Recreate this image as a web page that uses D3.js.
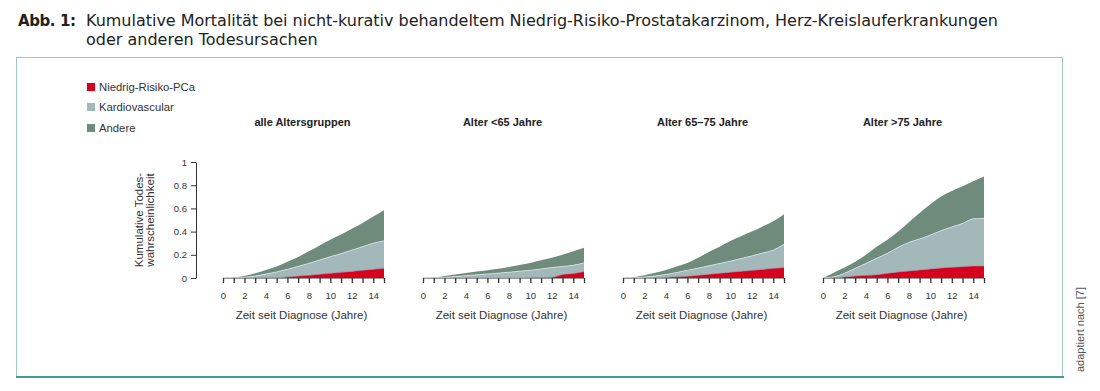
<!DOCTYPE html>
<html>
<head>
<meta charset="utf-8">
<script src="https://cdn.jsdelivr.net/npm/d3@7"></script>
<style>
  body { margin: 0; background: #fff; }
  svg text { font-family: "Liberation Sans", Arial, sans-serif; }
</style>
</head>
<body>
<div id="chart"></div>
<script>
const w = 1100;
const h = 391;

// panels + data (cause-specific cumulative contribution per year, 0..15)
const years = d3.range(0, 16);
const panelTitles = ["alle Altersgruppen", "Alter <65 Jahre", "Alter 65–75 Jahre", "Alter >75 Jahre"];
const keys = ["pca", "kardio", "andere"];
const legendLabels = ["Niedrig-Risiko-PCa", "Kardiovascular", "Andere"];
const colors = ["#d8001c", "#a3b8b9", "#6e8b7c"];

const pcaAll    = [0, 0, 0, 0.001, 0.002, 0.003, 0.009, 0.017, 0.023, 0.032, 0.04, 0.049, 0.057, 0.066, 0.075, 0.083];
const kardioAll = [0, 0.002, 0.006, 0.016, 0.032, 0.049, 0.066, 0.083, 0.103, 0.123, 0.144, 0.161, 0.183, 0.204, 0.225, 0.237];
const andereAll = [0, 0.003, 0.011, 0.023, 0.036, 0.048, 0.065, 0.08, 0.104, 0.125, 0.146, 0.165, 0.185, 0.205, 0.23, 0.265];

const pcaU65    = [0, 0, 0, 0, 0, 0, 0, 0, 0, 0, 0.002, 0.004, 0.006, 0.03, 0.038, 0.055];
const kardioU65 = [0, 0.001, 0.005, 0.012, 0.02, 0.027, 0.035, 0.042, 0.05, 0.058, 0.064, 0.074, 0.084, 0.07, 0.072, 0.075];
const andereU65 = [0, 0.002, 0.012, 0.018, 0.023, 0.028, 0.031, 0.038, 0.045, 0.054, 0.064, 0.074, 0.085, 0.1, 0.12, 0.13];

const pca6575    = [0, 0, 0, 0.002, 0.005, 0.01, 0.015, 0.023, 0.032, 0.041, 0.05, 0.058, 0.066, 0.074, 0.083, 0.09];
const kardio6575 = [0, 0.002, 0.008, 0.016, 0.025, 0.037, 0.051, 0.062, 0.073, 0.084, 0.095, 0.11, 0.124, 0.141, 0.157, 0.2];
const andere6575 = [0, 0.005, 0.015, 0.027, 0.04, 0.053, 0.064, 0.09, 0.12, 0.145, 0.175, 0.192, 0.21, 0.23, 0.25, 0.26];

const pcaO75    = [0, 0.003, 0.009, 0.017, 0.023, 0.029, 0.04, 0.052, 0.06, 0.069, 0.078, 0.086, 0.092, 0.098, 0.103, 0.103];
const kardioO75 = [0, 0.007, 0.031, 0.066, 0.103, 0.141, 0.173, 0.212, 0.247, 0.267, 0.292, 0.322, 0.348, 0.372, 0.407, 0.411];
const andereO75 = [0, 0.036, 0.05, 0.057, 0.074, 0.1, 0.117, 0.136, 0.173, 0.224, 0.265, 0.295, 0.31, 0.32, 0.325, 0.361];

const panelData = [
  [pcaAll, kardioAll, andereAll],
  [pcaU65, kardioU65, andereU65],
  [pca6575, kardio6575, andere6575],
  [pcaO75, kardioO75, andereO75]
];

const yTicks = [0, 0.2, 0.4, 0.6, 0.8, 1];

const svg = d3.select("#chart")
  .append("svg")
  .attr("width", w)
  .attr("height", h);

// title
svg.append("text")
  .attr("x", 18).attr("y", 26)
  .attr("font-weight", "bold")
  .attr("textLength", 58)
  .style("font-family", "'DejaVu Sans', sans-serif")
  .style("font-size", "15px")
  .attr("fill", "#222")
  .text("Abb. 1:");
svg.append("text")
  .attr("x", 86).attr("y", 26)
  .attr("textLength", 912)
  .style("font-family", "'DejaVu Sans', sans-serif")
  .style("font-size", "16px")
  .attr("fill", "#222")
  .text("Kumulative Mortalität bei nicht-kurativ behandeltem Niedrig-Risiko-Prostatakarzinom, Herz-Kreislauferkrankungen");
svg.append("text")
  .attr("x", 86).attr("y", 45)
  .style("font-family", "'DejaVu Sans', sans-serif")
  .style("font-size", "16px")
  .attr("fill", "#222")
  .text("oder anderen Todesursachen");

// frame
svg.append("rect")
  .attr("x", 16.5).attr("y", 57.5)
  .attr("width", 1046).attr("height", 319)
  .attr("fill", "none")
  .attr("stroke", "#9fc9c8");
svg.append("line")
  .attr("x1", 16).attr("x2", 1064)
  .attr("y1", 377).attr("y2", 377)
  .attr("stroke", "#4a9897")
  .attr("stroke-width", 2);

svg.append("text")
  .attr("transform", "translate(1084,372) rotate(-90)")
  .style("font-size", "11px")
  .attr("fill", "#555")
  .text("adaptiert nach [7]");

// legend
const legend = svg.append("g");
legendLabels.forEach((lab, i) => {
  const ly = [91, 111, 132][i];
  legend.append("rect")
    .attr("x", 87).attr("y", ly - 8)
    .attr("width", 8).attr("height", 8)
    .attr("fill", colors[i]);
  legend.append("text")
    .attr("x", 99).attr("y", ly)
    .style("font-size", "11.3px")
    .attr("fill", "#333")
    .text(lab);
});

// scales
const x0 = 223;
const pw = 161;
const topY = 162;
const ph = 116;

const xScale = d3.scaleLinear().domain([0, 15]).range([0, pw]);
const yScale = d3.scaleLinear().domain([0, 1]).range([ph, 0]);

const stack = d3.stack().keys(keys);

const area = d3.area()
  .x(d => xScale(d.data.year))
  .y0(d => yScale(d[0]))
  .y1(d => yScale(d[1]))
  .curve(d3.curveMonotoneX);

const topLine = d3.line()
  .x(d => xScale(d.data.year))
  .y(d => yScale(d[1]))
  .curve(d3.curveMonotoneX);

panelData.forEach((series, p) => {
  const g = svg.append("g")
    .attr("transform", `translate(${x0 + p * 200},${topY})`);

  const rows = years.map((yr, i) => ({ year: yr, pca: series[0][i], kardio: series[1][i], andere: series[2][i] }));
  const layers = stack(rows);

  g.selectAll("path.area")
    .data(layers.slice().reverse())
    .enter()
    .append("path")
    .attr("class", "area")
    .attr("d", area)
    .attr("fill", d => colors[keys.indexOf(d.key)]);

  // thin boundary lines
  g.append("path").attr("d", topLine(layers[1]))
    .attr("fill", "none").attr("stroke", "#d8e4ec").attr("stroke-width", 0.8);
  g.append("path").attr("d", topLine(layers[0]))
    .attr("fill", "none").attr("stroke", "#8e8ea6").attr("stroke-width", 0.6);

  g.append("text")
    .attr("x", pw / 2 - 1).attr("y", -36)
    .attr("text-anchor", "middle")
    .attr("font-weight", "bold")
    .style("font-size", "11px")
    .attr("fill", "#222")
    .text(panelTitles[p]);

  const xAxis = d3.axisBottom(xScale)
    .tickValues(years)
    .tickFormat(d => d % 2 === 0 ? d : "")
    .tickSize(5)
    .tickSizeOuter(0)
    .tickPadding(9);

  const ax = g.append("g")
    .attr("transform", `translate(0,${ph})`)
    .attr("class", "axis")
    .call(xAxis);
  ax.select(".domain").attr("stroke", "#999");
  ax.selectAll(".tick line").attr("stroke", "#333").attr("stroke-width", 1.3);
  ax.selectAll("text").style("font-size", "9.5px").attr("fill", "#333");

  g.append("text")
    .attr("x", pw / 2 - 2).attr("y", ph + 41)
    .attr("text-anchor", "middle")
    .style("font-size", "11.5px")
    .attr("fill", "#333")
    .text("Zeit seit Diagnose (Jahre)");

  if (p === 0) {
    const yAxis = d3.axisLeft(yScale)
      .tickValues(yTicks)
      .tickFormat(d => d === 0 ? "0" : d === 1 ? "1" : d3.format(".1f")(d))
      .tickSize(5)
      .tickSizeOuter(0)
      .tickPadding(4);
    const ay = g.append("g")
      .attr("transform", "translate(-27,0)")
      .attr("class", "axis")
      .call(yAxis);
    ay.select(".domain").attr("stroke", "#333");
    ay.selectAll(".tick line").attr("stroke", "#333");
    ay.selectAll("text").style("font-size", "9.5px").attr("fill", "#333");

    const yl = g.append("text")
      .attr("transform", `translate(-80,${ph / 2}) rotate(-90)`)
      .attr("text-anchor", "middle")
      .style("font-size", "11.5px")
      .attr("fill", "#333");
    yl.append("tspan").attr("x", 0).attr("dy", 0).text("Kumulative Todes-");
    yl.append("tspan").attr("x", 0).attr("dy", 11).text("wahrscheinlichkeit");
  }
});
</script>
</body>
</html>
